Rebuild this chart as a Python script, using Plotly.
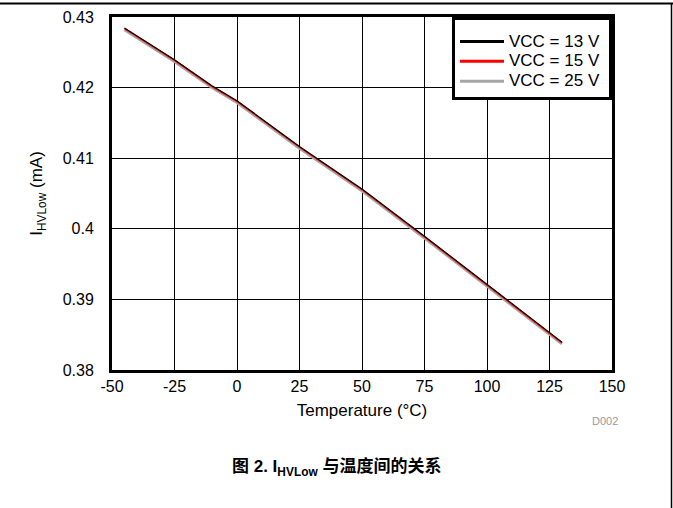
import plotly.graph_objects as go

# Data
temperature = [-45, -25, -10, 0, 25, 50, 75, 100, 125, 130]
i_vcc13 = [0.42845, 0.42395, 0.42025, 0.41815, 0.41165, 0.40565, 0.39895, 0.39215, 0.38535, 0.38395]
i_vcc15 = [0.42835, 0.42385, 0.42015, 0.41805, 0.41155, 0.40555, 0.39885, 0.39205, 0.38525, 0.38385]
i_vcc25 = [0.4282, 0.4237, 0.4200, 0.4179, 0.4114, 0.4054, 0.3987, 0.3919, 0.3851, 0.3837]
series_names = ["VCC = 13 V", "VCC = 15 V", "VCC = 25 V"]
series_colors = ["#000000", "#ff0000", "#a6a6a6"]
x_ticks = [-50, -25, 0, 25, 50, 75, 100, 125, 150]
x_ticktext = ["-50", "-25", "0", "25", "50", "75", "100", "125", "150"]
y_ticks = [0.38, 0.39, 0.40, 0.41, 0.42, 0.43]

FONT = "Liberation Sans, Arial, Noto Sans CJK SC, sans-serif"

fig = go.Figure()
# plotted curves: gray (bottom), red, black (top)
fig.add_trace(go.Scatter(x=temperature, y=i_vcc25, mode="lines", showlegend=False,
                         name=series_names[2], line=dict(color=series_colors[2], width=3)))
fig.add_trace(go.Scatter(x=temperature, y=i_vcc15, mode="lines", showlegend=False,
                         name=series_names[1], line=dict(color=series_colors[1], width=1.5)))
fig.add_trace(go.Scatter(x=temperature, y=i_vcc13, mode="lines", showlegend=False,
                         name=series_names[0], line=dict(color=series_colors[0], width=1.2)))
# legend entries (thick sample lines as in the reference)
for name, color in zip(series_names, series_colors):
    fig.add_trace(go.Scatter(x=[None], y=[None], mode="lines",
                             name='<span style="font-size:17px">' + name + '&nbsp;</span>',
                             line=dict(color=color, width=3)))

L, R, T, B = 112, 61, 17, 138
W, H = 673, 508
pw, ph = W - L - R, H - T - B

def px(x):
    return (x - L) / pw

def py(y):
    return (H - B - y) / ph

fig.update_layout(
    width=W, height=H,
    margin=dict(l=L, r=R, t=T, b=B, pad=0, autoexpand=False),
    paper_bgcolor="white", plot_bgcolor="white",
    font=dict(family=FONT, size=16, color="black"),
    showlegend=True,
    legend=dict(x=1, y=1, xanchor="right", yanchor="top",
                bordercolor="black", borderwidth=3, bgcolor="white",
                font=dict(size=13), tracegroupgap=0, itemwidth=44,
                traceorder="normal",
                title=dict(text="&nbsp;", font=dict(size=5))),
    xaxis=dict(range=[-50, 150], tickvals=x_ticks, ticktext=x_ticktext, showgrid=True,
               gridcolor="black", gridwidth=1, showline=True, linecolor="black",
               linewidth=3, mirror=True, ticks="", zeroline=False, automargin=False,
               tickfont=dict(size=16), ticklabelstandoff=0,
               title=dict(text="Temperature (°C)", font=dict(size=17), standoff=10)),
    yaxis=dict(range=[0.38, 0.43], tickvals=y_ticks, showgrid=True, gridcolor="black",
               gridwidth=1, showline=True, linecolor="black", linewidth=3, mirror=True,
               ticks="", zeroline=False, automargin=False, tickfont=dict(size=16),
               ticklabelstandoff=12,
               title=dict(text="I<sub>HVLow</sub> (mA)", font=dict(size=17), standoff=16)),
    shapes=[
        dict(type="line", xref="paper", yref="paper", x0=px(0), x1=px(673), y0=py(3.5), y1=py(3.5),
             line=dict(color="black", width=2)),
        dict(type="line", xref="paper", yref="paper", x0=px(671.5), x1=px(671.5), y0=py(3), y1=py(508),
             line=dict(color="black", width=1.5)),
    ],
    annotations=[
        dict(text="D002", xref="paper", yref="paper", x=px(605), y=py(421),
             xanchor="center", yanchor="middle", showarrow=False,
             font=dict(size=11, color="#999999")),
        dict(text="<b>图 2. I<sub>HVLow</sub> 与温度间的关系</b>", xref="paper", yref="paper",
             x=px(336), y=py(467), xanchor="center", yanchor="middle", showarrow=False,
             font=dict(size=17, color="black", family=FONT)),
    ],
)

fig.write_html("out.html", config={"displayModeBar": False},
               post_script="document.body.style.margin='0px';")
